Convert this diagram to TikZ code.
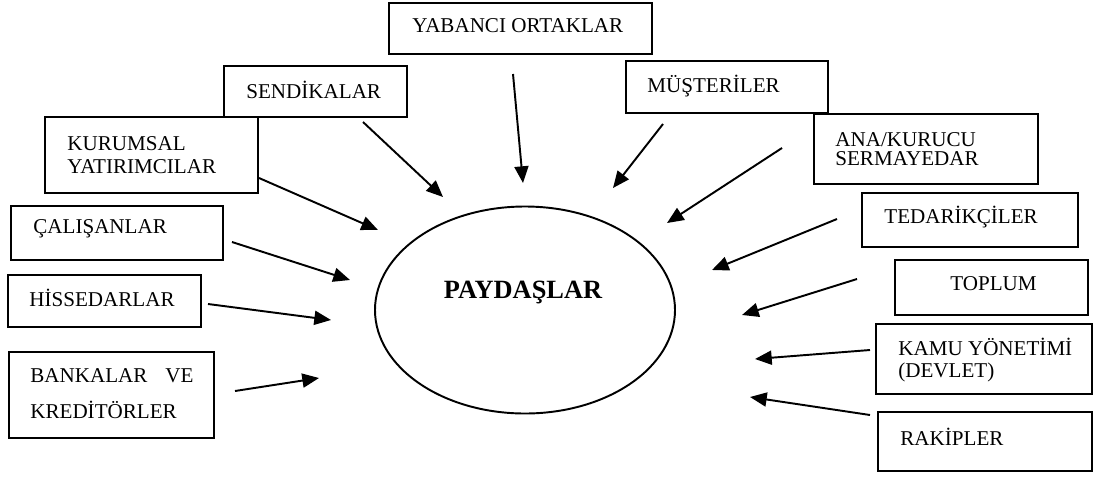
\documentclass[tikz,border=0pt]{standalone}
\usepackage{fontspec}
\setmainfont{Liberation Serif}
\usetikzlibrary{arrows.meta,fit,shapes.geometric}
\begin{document}
\begin{tikzpicture}[x=0.02cm,y=-0.02cm,
  box/.style={draw, line width=1.4pt, inner sep=0pt},
  lbl/.style={anchor=west, inner sep=0pt, font=\fontsize{12}{14}\selectfont, align=left},
  arr/.style={line width=1.1pt, -{Triangle[length=9.5pt,width=8pt]}}]
\useasboundingbox (0,0) rectangle (1094,477);

% central ellipse
\node[draw, ellipse, line width=1.1pt, minimum width=300*0.02cm, minimum height=207*0.02cm, inner sep=0pt] (pay) at (525,310) {};
\node[inner sep=0pt, font=\fontsize{15}{17}\selectfont\bfseries] (paytxt) at (523,292) {PAYDAŞLAR};

% stakeholder boxes
\node[box, fit={(389,3) (652,54)}] (yab) {};
\node[lbl] (yabtxt) at (412,26) {YABANCI ORTAKLAR};

\node[box, fit={(224,66) (407,117)}] (sen) {};
\node[lbl] (sentxt) at (246,90) {SENDİKALAR};

\node[box, fit={(45,117) (258,193)}] (kur) {};
\node[lbl, font=\fontsize{12}{13}\selectfont] (kurtxt) at (67,155) {KURUMSAL\\YATIRIMCILAR};

\node[box, fit={(11,206) (223,260)}] (cal) {};
\node[lbl] (caltxt) at (33,229) {ÇALIŞANLAR};

\node[box, fit={(8,275) (201,327)}] (his) {};
\node[lbl] (histxt) at (29,298) {HİSSEDARLAR};

\node[box, fit={(9,352) (214,438)}] (ban) {};
\node[lbl, font=\fontsize{12}{20.4}\selectfont] (bantxt) at (30,394) {BANKALAR\hspace{0.85em}VE\\KREDİTÖRLER};

\node[box, fit={(626,61) (828,113)}] (mus) {};
\node[lbl] (mustxt) at (647,86) {MÜŞTERİLER};

\node[box, fit={(814,114) (1038,184)}] (ana) {};
\node[lbl, font=\fontsize{12}{11}\selectfont] (anatxt) at (835,149) {ANA/KURUCU\\SERMAYEDAR};

\node[box, fit={(862,193) (1078,247)}] (ted) {};
\node[lbl] (tedtxt) at (884,217) {TEDARİKÇİLER};

\node[box, fit={(895,260) (1088,315)}] (top) {};
\node[lbl] (toptxt) at (950,284) {TOPLUM};

\node[box, fit={(876,324) (1092,394)}] (kam) {};
\node[lbl, font=\fontsize{12}{13}\selectfont] (kamtxt) at (898,360) {KAMU YÖNETİMİ\\(DEVLET)};

\node[box, fit={(878,412) (1092,471)}] (rak) {};
\node[lbl] (raktxt) at (900,437) {RAKİPLER};

% arrow end points
\coordinate (sen-a) at (363,122); \coordinate (sen-b) at (443,197);
\coordinate (kur-a) at (259,178); \coordinate (kur-b) at (378,230);
\coordinate (yab-a) at (513,74);  \coordinate (yab-b) at (523,183);
\coordinate (mus-a) at (663,124); \coordinate (mus-b) at (613,188);
\coordinate (ana-a) at (782,148); \coordinate (ana-b) at (667,223);
\coordinate (ted-a) at (837,219); \coordinate (ted-b) at (712,270);
\coordinate (top-a) at (857,279); \coordinate (top-b) at (742,315);
\coordinate (kam-a) at (870,350); \coordinate (kam-b) at (755,359);
\coordinate (rak-a) at (870,415); \coordinate (rak-b) at (750,397);
\coordinate (cal-a) at (232,242); \coordinate (cal-b) at (350,280);
\coordinate (his-a) at (208,304); \coordinate (his-b) at (331,320);
\coordinate (ban-a) at (235,391); \coordinate (ban-b) at (319,378);

% arrows
\foreach \n in {sen,kur,yab,mus,ana,ted,top,kam,rak,cal,his,ban}
  \draw[arr] (\n-a) -- (\n-b);
\end{tikzpicture}
\end{document}
